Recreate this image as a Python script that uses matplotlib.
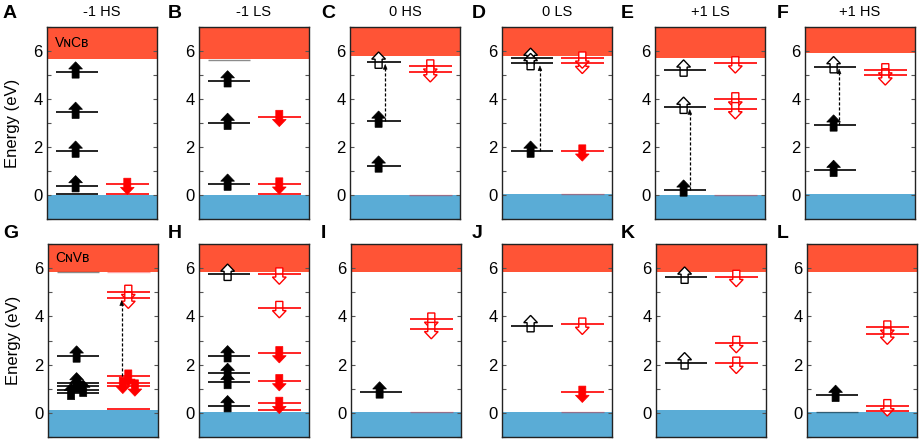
import matplotlib
matplotlib.use("Agg")
import matplotlib.pyplot as plt
from matplotlib.patches import FancyArrow
from matplotlib.ticker import MultipleLocator

plt.rcParams['font.family'] = ['Liberation Sans', 'DejaVu Sans']

# ---------------- data ----------------
panel_letters = list("ABCDEFGHIJKL")
titles = ["-1 HS", "-1 LS", "0 HS", "0 LS", "+1 LS", "+1 HS"]
defect_names = {0: "V\u0274C\u0299", 6: "C\u0274V\u0299"}

cbm = [5.66, 5.66, 5.79, 5.79, 5.72, 5.93, 5.86, 5.86, 5.82, 5.82, 5.86, 5.84]
vbm = [0.0, 0.0, 0.0, 0.03, 0.0, 0.06, 0.13, 0.04, 0.04, 0.04, 0.10, 0.04]

# (energy, occupancy): 1 = filled arrow, 0 = empty arrow, None = no arrow
up_levels = [
    [(5.13, 1), (3.45, 1), (1.83, 1), (0.39, 1), (0.03, None)],
    [(4.76, 1), (2.99, 1), (0.455, 1)],
    [(5.54, 0), (3.08, 1), (1.21, 1)],
    [(5.70, 0), (5.48, 0), (1.83, 1)],
    [(5.21, 0), (3.66, 0), (0.21, 1)],
    [(5.35, 0), (2.92, 1), (1.03, 1)],
    [(2.36, 1), (1.25, 1), (1.11, 1), (0.94, 1), (0.81, 1)],
    [(5.75, 0), (2.37, 1), (1.64, 1), (1.26, 1), (0.30, 1)],
    [(0.87, 1)],
    [(3.62, 0)],
    [(5.63, 0), (2.08, 0)],
    [(0.73, 1)],
]
down_levels = [
    [(0.44, 1), (0.03, None)],
    [(3.27, 1), (0.455, 1), (0.03, None)],
    [(5.37, 0), (5.13, 0)],
    [(5.48, 0), (5.70, 0), (1.83, 1)],
    [(5.50, 0), (4.00, 0), (3.59, 0)],
    [(5.21, 0), (5.00, 0)],
    [(5.03, 0), (4.75, 0), (1.52, 1), (1.22, 1), (1.11, 1), (0.18, None)],
    [(5.75, 0), (4.36, 0), (2.49, 1), (1.33, 1), (0.39, 1), (0.11, None)],
    [(3.88, 0), (3.49, 0)],
    [(3.67, 0), (0.85, 1)],
    [(5.65, 0), (2.91, 0), (2.05, 0)],
    [(3.55, 0), (3.26, 0), (0.29, 0), (0.07, None)],
]
# faint levels merged with band edges
edge_up = {1: [5.64], 6: [5.83], 11: [0.04]}
edge_down = {2: [0.02], 3: [0.05], 4: [0.02], 6: [5.83], 8: [0.05], 9: [0.05]}

# dashed excitations: (panel, x in axes fraction, from energy, to energy)
transitions = [
    (2, 0.32, 3.08, 5.54),
    (3, 0.345, 1.83, 5.48),
    (4, 0.316, 0.21, 3.66),
    (5, 0.31, 2.92, 5.35),
    (6, 0.67, 1.52, 4.75),
]

# ---------------- layout / style ----------------
W, H = 920, 440
fig = plt.figure(figsize=(W / 100, H / 100), dpi=100)

lefts = [47, 199, 350, 502, 655, 805, 48, 199, 351, 502, 656, 807]
axw = 110
rows = [(27, 219), (244, 437)]
letter_x = [3, 168, 321, 472, 621, 777, 3, 168, 321, 472, 621, 777]
letter_y = [13, 233]
up_span = {2: (0.15, 0.46)}  # panel-specific spin-up line extents

red_band = "#FF5436"
blue_band = "#5AACD6"
UP_X, DOWN_X = 0.26, 0.73
# small x offsets for overlapping arrows (panel, spin, index)
arrow_dx = {(6, 'u', 3): 0.06, (6, 'u', 4): -0.05,
            (6, 'd', 3): -0.05, (6, 'd', 4): 0.06}

def draw_arrow(ax, x, level, up, filled, color):
    length = 0.68
    if up:
        y0, dy = level - 0.26, length
    else:
        y0, dy = level + 0.26, -length
    fc = color if filled else "white"
    lw = 0.5 if filled else 1.0
    ax.add_patch(FancyArrow(x, y0, 0, dy, width=0.064, head_width=0.125,
                            head_length=0.3, length_includes_head=True,
                            fc=fc, ec=color, lw=lw, zorder=3))

for i in range(12):
    r = 0 if i < 6 else 1
    top, bot = rows[r]
    ax = fig.add_axes([lefts[i] / W, 1 - bot / H, axw / W, (bot - top) / H])
    ax.set_xlim(0, 1)
    ax.set_ylim(-1, 7)
    ax.axhspan(cbm[i], 7, color=red_band, lw=0, zorder=0)
    ax.axhspan(-1, vbm[i], color=blue_band, lw=0, zorder=0)
    ux0, ux1 = up_span.get(i, (0.08, 0.46))

    for e in edge_up.get(i, []):
        ax.hlines(e, 0.08, 0.46, color="black", lw=1.0, alpha=0.45, zorder=1)
    for e in edge_down.get(i, []):
        ax.hlines(e, 0.54, 0.93, color="red", lw=1.0, alpha=0.35, zorder=1)

    # spin up
    ups = up_levels[i]
    order = sorted(range(len(ups)), key=lambda k: -ups[k][0])
    for k in order:
        e, occ = ups[k]
        ax.hlines(e, ux0, ux1, color="black", lw=1.2, zorder=4)
        if occ is not None:
            draw_arrow(ax, UP_X + arrow_dx.get((i, 'u', k), 0), e, True, occ == 1, "black")
    # spin down
    downs = down_levels[i]
    for k in range(len(downs)):
        e, occ = downs[k]
        ax.hlines(e, 0.54, 0.93, color="red", lw=1.2, zorder=4)
        if occ is not None:
            draw_arrow(ax, DOWN_X + arrow_dx.get((i, 'd', k), 0), e, False, occ == 1, "red")

    for (p, x, e0, e1) in transitions:
        if p == i:
            ax.plot([x, x], [e0, e1 - 0.25], ls=(0, (2.5, 1.5)), color="black", lw=0.9, zorder=5)
            ax.add_patch(FancyArrow(x, e1 - 0.3, 0, 0.2, width=0.0, head_width=0.035,
                                    head_length=0.2, length_includes_head=True,
                                    fc="black", ec="black", lw=0.4, zorder=5))

    ax.set_xticks([])
    ax.yaxis.set_major_locator(MultipleLocator(2))
    ax.yaxis.set_minor_locator(MultipleLocator(1))
    ax.tick_params(axis='y', which='both', direction='in', left=True, right=True,
                   length=3, width=0.8, color="#555555", labelsize=12, pad=3)
    for s in ax.spines.values():
        s.set_linewidth(1.0)
        s.set_color("#222222")
        s.set_zorder(6)

    if i in (0, 6):
        ax.set_ylabel("Energy (eV)", fontsize=12)
        ax.yaxis.set_label_coords(-0.245, 0.5)
    if i in defect_names:
        ax.text(0.07, 6.35 if i == 0 else 6.43, defect_names[i], fontsize=10,
                va="center", ha="left", zorder=7)
    if i < 6:
        fig.text((lefts[i] + axw / 2) / W, 1 - 12 / H, titles[i], fontsize=10.5,
                 ha="center", va="center")
    fig.text(letter_x[i] / W, 1 - letter_y[r] / H, panel_letters[i], fontsize=14,
             fontweight="bold", ha="left", va="center")

fig.savefig("out.png", dpi=100)
